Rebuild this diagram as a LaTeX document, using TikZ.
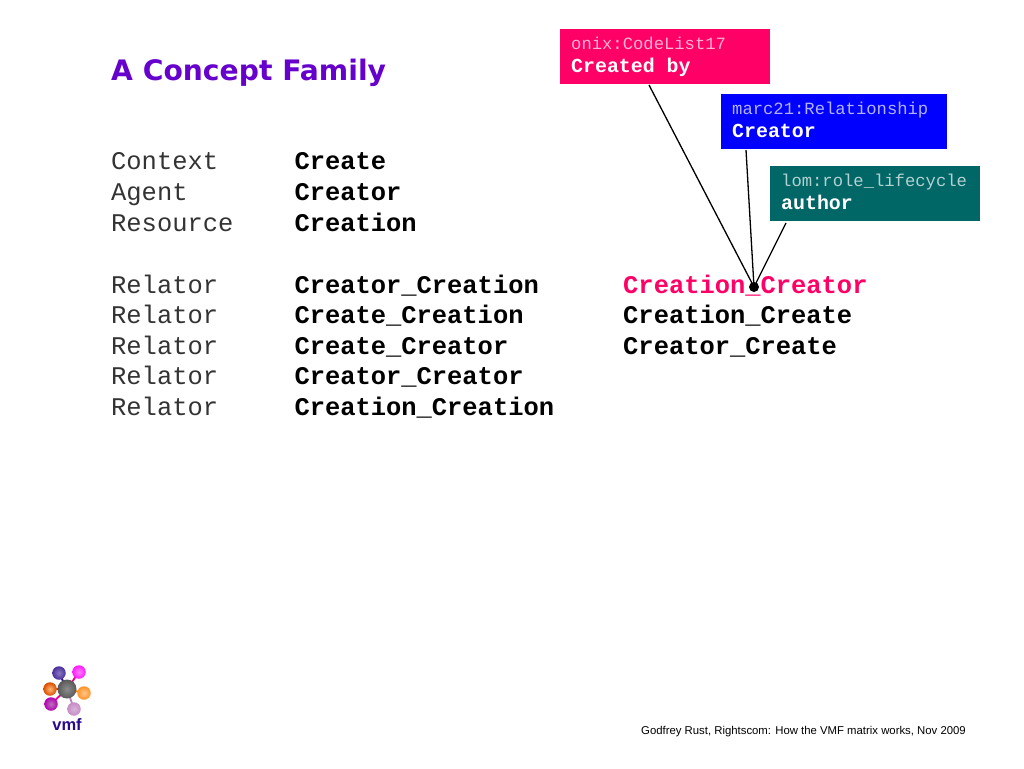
\documentclass[tikz,border=0pt]{standalone}
\usepackage{fontspec}
\usetikzlibrary{backgrounds}
\setmainfont{Liberation Sans}
\setmonofont{Liberation Mono}
\newfontfamily\titlefont{DejaVu Sans}
\definecolor{vpurple}{HTML}{6600CC}
\definecolor{vpink}{HTML}{FF0066}
\definecolor{vblue}{HTML}{0000FF}
\definecolor{vteal}{HTML}{006666}
\definecolor{vnavy}{HTML}{2A0A8C}
\tikzset{
  x=1pt,y=-1pt,
  titletext/.style={anchor=base west,inner sep=0pt,text=vpurple,font=\titlefont\bfseries\fontsize{28.2}{30}\selectfont},
  lighttext/.style={anchor=base west,inner sep=0pt,font=\ttfamily\fontsize{25.45}{28}\selectfont,text=black!80},
  boldtext/.style={anchor=base west,inner sep=0pt,font=\ttfamily\bfseries\fontsize{25.45}{28}\selectfont,text=black},
  boxfill/.style={anchor=north west,inner sep=0pt,minimum height=55pt},
  boxlight/.style={anchor=base west,inner sep=0pt,font=\ttfamily\fontsize{17.2}{20}\selectfont},
  boxbold/.style={anchor=base west,inner sep=0pt,font=\ttfamily\bfseries\fontsize{19.9}{22}\selectfont,text=white},
  link/.style={draw=black,line width=1.3pt},
  hub/.style={circle,fill=black,inner sep=0pt,minimum size=10pt},
  ball/.style={circle,inner sep=0pt,minimum size=13.5pt},
  spoke/.style={line width=1.8pt},
}
\begin{document}
\begin{tikzpicture}
\useasboundingbox (0,0) rectangle (1024,768);
\node[titletext] (title) at (111,81) {A Concept Family};
\node[lighttext] (l1) at (111,169.5) {Context};
\node[lighttext] (l2) at (111,200.3) {Agent};
\node[lighttext] (l3) at (111,231) {Resource};
\node[lighttext] (l4) at (111,293) {Relator};
\node[lighttext] (l5) at (111,323.5) {Relator};
\node[lighttext] (l6) at (111,354.5) {Relator};
\node[lighttext] (l7) at (111,384.7) {Relator};
\node[lighttext] (l8) at (111,415.5) {Relator};
\node[boldtext] (b1) at (294.3,169.5) {Create};
\node[boldtext] (b2) at (294.3,200.3) {Creator};
\node[boldtext] (b3) at (294.3,231) {Creation};
\node[boldtext] (b4) at (294.3,293) {Creator\_Creation};
\node[boldtext] (b5) at (294.3,323.5) {Create\_Creation};
\node[boldtext] (b6) at (294.3,354.5) {Create\_Creator};
\node[boldtext] (b7) at (294.3,384.7) {Creator\_Creator};
\node[boldtext] (b8) at (294.3,415.5) {Creation\_Creation};
\node[boldtext,text=vpink] (c1) at (623,293) {Creation\_Creator};
\node[boldtext] (c2) at (623,323.5) {Creation\_Create};
\node[boldtext] (c3) at (623,354.5) {Creator\_Create};
\node[boxfill,fill=vpink,minimum width=210pt] (onix) at (560,29) {};
\node[boxfill,fill=vblue,minimum width=226pt] (marc) at (721,94) {};
\node[boxfill,fill=vteal,minimum width=210pt] (lom) at (770,166) {};
\node[boxlight,text=white!70!vpink] (onixa) at (571,49) {onix:CodeList17};
\node[boxbold] (onixb) at (571,72.5) {Created by};
\node[boxlight,text=white!70!vblue] (marca) at (732,114) {marc21:Relationship};
\node[boxbold] (marcb) at (732,137) {Creator};
\node[boxlight,text=white!70!vteal] (loma) at (781,186.5) {lom:role\_lifecycle};
\node[boxbold] (lomb) at (781,209) {author};
\node[hub] (dot) at (754,287) {};
\coordinate (onixend) at (649,85);
\coordinate (marcend) at (746,150);
\coordinate (lomend) at (786,223);
\draw[link] (onixend) -- (dot.center);
\draw[link] (marcend) -- (dot.center);
\draw[link] (lomend) -- (dot.center);
% logo
\node[ball,inner color=white!45!vnavy,outer color=vnavy!85!white] (v1) at (59,673) {};
\node[ball,inner color=white!50!magenta,outer color=magenta!90!white] (v2) at (79,672) {};
\node[ball,inner color=white!45!orange,outer color=orange!70!red!85!black] (v3) at (50,689) {};
\node[ball,inner color=white!55!orange,outer color=orange!85!white] (v4) at (84,693) {};
\node[ball,inner color=white!45!violet,outer color=violet!60!magenta] (v5) at (51,704) {};
\node[ball,inner color=white!70!violet,outer color=violet!45!white] (v6) at (74,709) {};
\node[circle,inner sep=0pt,minimum size=19pt,inner color=black!45,outer color=black!65] (vc) at (67,689) {};
\begin{pgfonlayer}{background}
\draw[spoke,draw=vnavy] (v1.center) -- (vc.center);
\draw[spoke,draw=magenta] (v2.center) -- (vc.center);
\draw[spoke,draw=orange!80!red] (v3.center) -- (vc.center);
\draw[spoke,draw=orange] (v4.center) -- (vc.center);
\draw[spoke,draw=magenta] (v5.center) -- (vc.center);
\draw[spoke,draw=violet!50!white] (v6.center) -- (vc.center);
\end{pgfonlayer}
\node[anchor=base,inner sep=0pt,font=\bfseries\fontsize{16.5}{18}\selectfont,text=vnavy] (vmf) at (67,730.5) {vmf};
\node[anchor=base east,inner sep=0pt,font=\fontsize{11.35}{14}\selectfont,text=black] (foot) at (966,734) {Godfrey Rust, Rightscom: How the VMF matrix works, Nov 2009};
\end{tikzpicture}
\end{document}
